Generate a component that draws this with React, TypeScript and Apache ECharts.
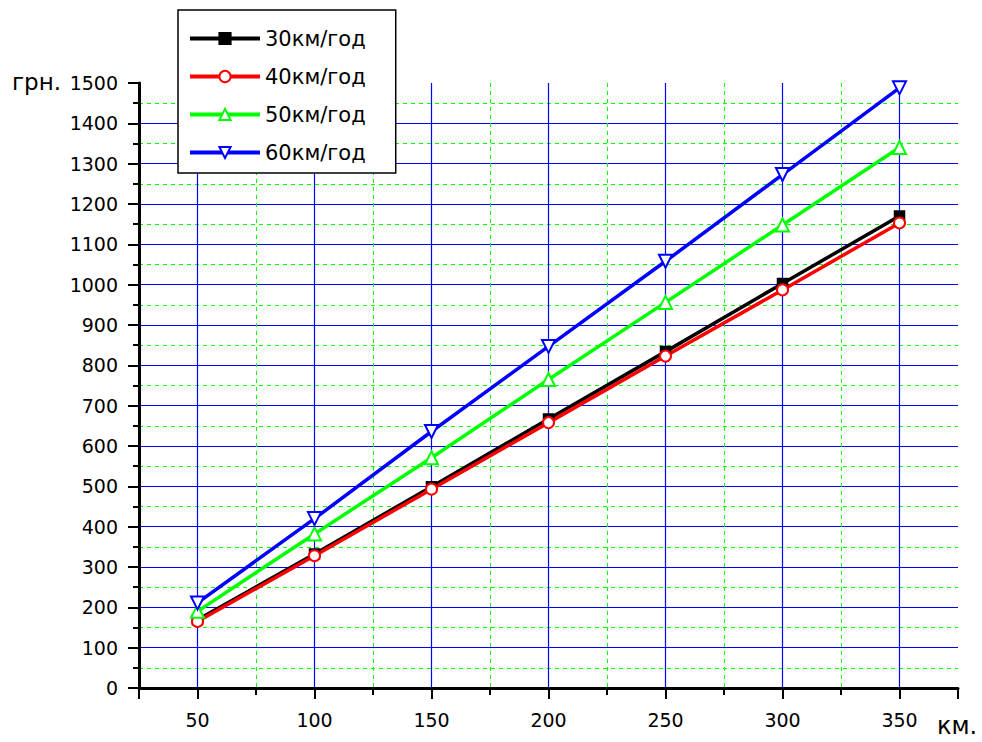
import React, { useEffect, useRef } from "react";
import * as echarts from "echarts";

const distances = [50, 100, 150, 200, 250, 300, 350];
const seriesNames = ["30км/год", "40км/год", "50км/год", "60км/год"];
const cost30 = [169, 332, 499, 667, 834, 1003, 1170];
const cost40 = [165, 328, 493, 658, 823, 987, 1153];
const cost50 = [190, 382, 571, 765, 956, 1148, 1340];
const cost60 = [211, 420, 636, 847, 1058, 1273, 1488];
const xMajorLines = [50, 100, 150, 200, 250, 300, 350];
const yUnit = "грн.";
const xUnit = "км.";

const FONT = "'DejaVu Sans', 'Liberation Sans', Arial, sans-serif";

export default function App() {
  const ref = useRef<HTMLDivElement>(null);
  useEffect(() => {
    if (!ref.current) return;
    const chart = echarts.init(ref.current, undefined, { renderer: "svg" });
    const mk = (name: string, data: number[], color: string, symbol: string, size: number, rotate = 0) => ({
      name,
      type: "line",
      data: distances.map((d, i) => [d, data[i]]),
      symbol,
      symbolSize: size,
      symbolRotate: rotate,
      showAllSymbol: true,
      lineStyle: { color, width: 3.5 },
      itemStyle: { color, borderColor: color, borderWidth: 1.5 },
      emphasis: { disabled: true },
    });
    const s30 = mk(seriesNames[0], cost30, "#000000", "rect", 10);
    const s40 = mk(seriesNames[1], cost40, "#ff0000", "emptyCircle", 11);
    const s50 = mk(seriesNames[2], cost50, "#00ff00", "emptyTriangle", 13);
    const s60 = mk(seriesNames[3], cost60, "#0000ff", "emptyTriangle", 13, 180);
    (s30 as any).markLine = {
      silent: true,
      symbol: "none",
      label: { show: false },
      lineStyle: { color: "#0000ff", width: 1.2, type: "solid" },
      data: xMajorLines.map((v) => ({ xAxis: v })),
      z: 0,
    };
    chart.setOption({
      animation: false,
      backgroundColor: "#ffffff",
      grid: { left: 139, right: 24, top: 83, bottom: 54 },
      xAxis: {
        type: "value",
        min: 25,
        max: 375,
        minInterval: 50,
        maxInterval: 50,
        axisLine: { show: true, onZero: false, lineStyle: { color: "#000", width: 3 } },
        axisTick: { show: true, length: 11, lineStyle: { color: "#000", width: 2 } },
        minorTick: { show: true, splitNumber: 2, length: 7, lineStyle: { color: "#000", width: 2 } },
        axisLabel: {
          color: "#000",
          fontSize: 19,
          fontFamily: FONT,
          margin: 22,
          formatter: (v: number) => (v % 50 === 0 ? String(v) : ""),
        },
        splitLine: { show: false },
        minorSplitLine: { show: true, lineStyle: { color: "#00ff00", width: 1, type: [4, 4] } },
      },
      yAxis: {
        type: "value",
        min: 0,
        max: 1500,
        interval: 100,
        axisLine: { show: true, onZero: false, lineStyle: { color: "#000", width: 3 } },
        axisTick: { show: true, length: 11, lineStyle: { color: "#000", width: 2 } },
        minorTick: { show: true, splitNumber: 2, length: 6, lineStyle: { color: "#000", width: 2 } },
        axisLabel: { color: "#000", fontSize: 19, fontFamily: FONT, margin: 21, formatter: (v: number) => String(v) },
        splitLine: { show: true, showMinLine: false, showMaxLine: false, lineStyle: { color: "#0000ff", width: 1.2 } },
        minorSplitLine: { show: true, lineStyle: { color: "#00ff00", width: 1, type: [4, 4] } },
      },
      legend: {
        orient: "vertical",
        left: 178,
        top: 10,
        data: seriesNames,
        backgroundColor: "#ffffff",
        borderColor: "#000",
        borderWidth: 1.5,
        padding: [18, 30, 10, 10],
        itemWidth: 70,
        itemHeight: 14,
        itemGap: 17,
        lineStyle: { width: 4 },
        textStyle: { color: "#000", fontSize: 21, fontFamily: FONT, lineHeight: 20 },
        selectedMode: false,
      },
      graphic: [
        { type: "text", left: 12, top: 70, style: { text: yUnit, fontSize: 23, fontFamily: FONT, fill: "#000" } },
        { type: "text", left: 937, top: 714, style: { text: xUnit, fontSize: 24, fontFamily: FONT, fill: "#000" } },
      ],
      series: [s30, s40, s50, s60],
    });
    return () => chart.dispose();
  }, []);
  return <div ref={ref} style={{ position: "fixed", left: 0, top: 0, width: 982, height: 742 }} />;
}
